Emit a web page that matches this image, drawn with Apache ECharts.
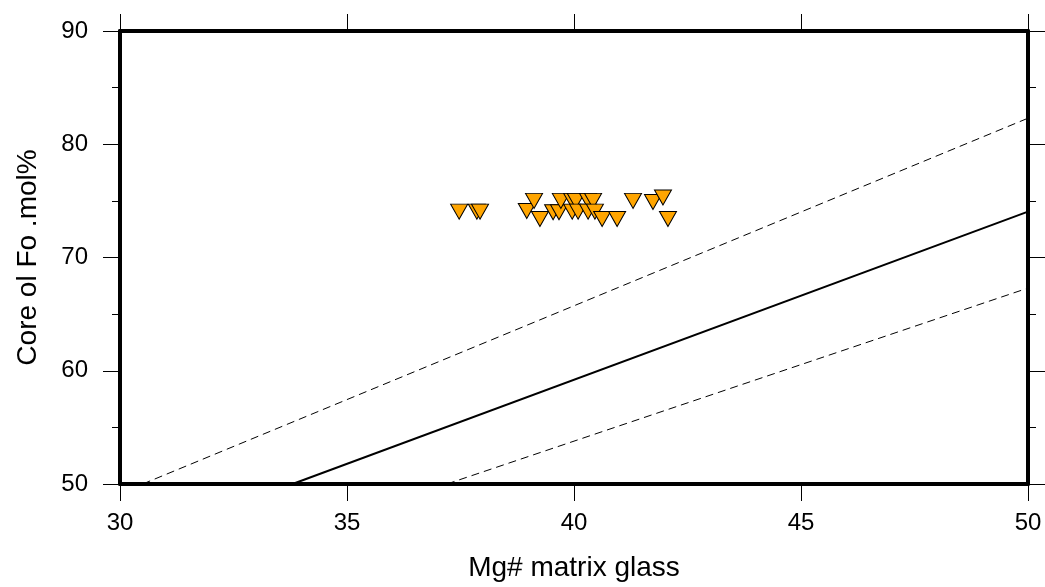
<!DOCTYPE html>
<html><head><meta charset="utf-8">
<script src="https://cdn.jsdelivr.net/npm/echarts@6/dist/echarts.min.js"></script>
<style>html,body{margin:0;padding:0;background:#fff}#c{width:1045px;height:587px}</style>
</head><body><div id="c"></div>
<script>
// Data
const mgGlass = [37.47, 37.86, 37.93, 38.96, 39.12, 39.25, 39.54, 39.67, 39.71, 39.96, 39.96, 40.04, 40.09, 40.31, 40.31, 40.42, 40.46, 40.62, 40.95, 41.30, 41.74, 41.96, 42.07];
const coreFo  = [74.05, 74.05, 74.05, 74.1, 75.0, 73.4, 74.0, 74.0, 75.0, 75.0, 74.05, 75.0, 74.05, 75.0, 74.05, 75.0, 74.05, 73.4, 73.4, 75.0, 74.9, 75.3, 73.4];
const eqLine    = [[33.8, 50], [50, 74.05]];
const upperLine = [[30.5, 50], [50, 82.3]];
const lowerLine = [[37.2, 50], [50, 67.3]];
const xTicks = {min: 30, max: 50, interval: 5};
const yTicks = {min: 50, max: 90, interval: 10};

const font = 'Liberation Sans, Arial, Helvetica, sans-serif';
const chart = echarts.init(document.getElementById('c'));
const lineStyle = {color: '#000', width: 4};
function xAx(pos, show) {
  return {type: 'value', position: pos, min: xTicks.min, max: xTicks.max, interval: xTicks.interval,
    axisLine: {show: true, onZero: false, lineStyle},
    axisTick: {show: true, inside: false, length: 17, lineStyle: {color: '#000', width: 1}},
    axisLabel: {show: show, fontSize: 24, color: '#000', fontFamily: font, margin: 27},
    splitLine: {show: false},
    name: show ? 'Mg# matrix glass' : '', nameLocation: 'middle', nameGap: 70,
    nameTextStyle: {fontSize: 28, color: '#000', fontFamily: font}};
}
function yAx(pos, show) {
  return {type: 'value', position: pos, min: yTicks.min, max: yTicks.max, interval: yTicks.interval,
    axisLine: {show: true, onZero: false, lineStyle},
    axisTick: {show: true, inside: false, length: 17, lineStyle: {color: '#000', width: 1}},
    minorTick: {show: true, splitNumber: 2, length: 8, lineStyle: {color: '#000', width: 1}},
    axisLabel: {show: show, fontSize: 24, color: '#000', fontFamily: font, margin: 32},
    splitLine: {show: false}, minorSplitLine: {show: false},
    name: show ? 'Core ol Fo .mol%' : '', nameLocation: 'middle', nameGap: 78,
    nameTextStyle: {fontSize: 28, color: '#000', fontFamily: font}};
}
chart.setOption({
  animation: false,
  grid: {left: 120, right: 17, top: 31, bottom: 102},
  xAxis: [xAx('bottom', true), xAx('top', false)],
  yAxis: [yAx('left', true), yAx('right', false)],
  series: [
    {type: 'line', data: upperLine, showSymbol: false, symbol: 'none', lineStyle: {color: '#000', width: 1, type: [8, 5]}, z: 2},
    {type: 'line', data: eqLine, showSymbol: false, symbol: 'none', lineStyle: {color: '#000', width: 2}, z: 2},
    {type: 'line', data: lowerLine, showSymbol: false, symbol: 'none', lineStyle: {color: '#000', width: 1, type: [8, 5]}, z: 2},
    {type: 'scatter', data: mgGlass.map((x, i) => [x, coreFo[i]]), symbol: 'triangle', symbolRotate: 180,
      symbolSize: [17, 15], itemStyle: {color: '#FFA500', borderColor: '#000', borderWidth: 1, opacity: 1}, z: 3}
  ]
});
</script></body></html>
